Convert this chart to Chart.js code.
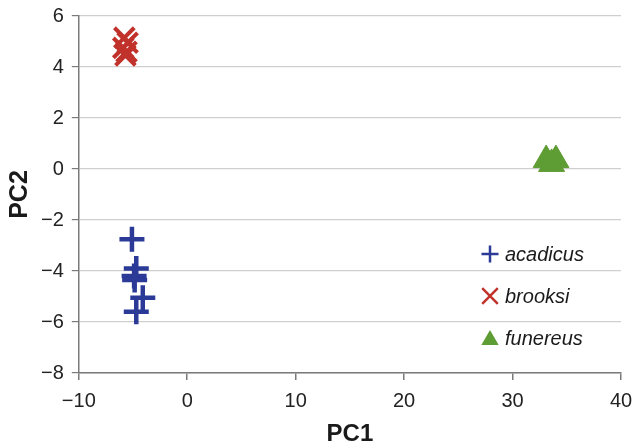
<!DOCTYPE html>
<html>
<head>
<meta charset="utf-8">
<script src="https://cdn.jsdelivr.net/npm/chart.js@4"></script>
<style>
  body { margin: 0; background: #fff; overflow: hidden; }
  canvas { display: block; margin-top: -2px; }
</style>
</head>
<body>
<canvas id="pca" width="639" height="450"></canvas>
<script>
// species scores on the first two principal components
const species = ["acadicus", "brooksi", "funereus"];
const acadicusPC1 = [-5.1, -4.7, -4.9, -4.85, -4.1, -4.7];
const acadicusPC2 = [-2.75, -3.9, -4.2, -4.35, -5.05, -5.6];
const brooksiPC1 = [-5.8, -5.5, -5.9, -5.6, -5.7];
const brooksiPC2 = [5.15, 4.95, 4.75, 4.6, 4.45];
const funereusPC1 = [33.1, 34.0, 33.6];
const funereusPC2 = [0.35, 0.35, 0.2];

const xTicks = [-10, 0, 10, 20, 30, 40];
const yTicks = [-8, -6, -4, -2, 0, 2, 4, 6];

const colors = ["#2b3a97", "#c0322b", "#5e9c34"];
const styles = ["cross", "crossRot", "triangle"];
const FONT = "'Liberation Sans', Arial, sans-serif";

function pts(xs, ys) {
  return xs.map((x, i) => ({ x: x, y: ys[i] }));
}

const datasets = [
  { label: species[0], data: pts(acadicusPC1, acadicusPC2), pointStyle: styles[0],
    pointRadius: 12.5, borderWidth: 4.5, borderColor: colors[0], backgroundColor: colors[0] },
  { label: species[1], data: pts(brooksiPC1, brooksiPC2), pointStyle: styles[1],
    pointRadius: 14, borderWidth: 4, borderColor: colors[1], backgroundColor: colors[1] },
  { label: species[2], data: pts(funereusPC1, funereusPC2), pointStyle: styles[2],
    pointRadius: 15, borderWidth: 1, borderColor: colors[2], backgroundColor: colors[2] }
];

const minus = v => String(v).replace("-", "\u2212");

// legend drawn inside the plot, lower right
const innerLegend = {
  id: "innerLegend",
  afterDraw(chart) {
    const ctx = chart.ctx;
    const area = chart.chartArea;
    const x0 = area.right - 131;
    const y0 = area.top + 238;
    ctx.save();
    ctx.font = "italic 20px " + FONT;
    ctx.textBaseline = "middle";
    species.forEach((name, i) => {
      const y = y0 + i * 42;
      ctx.strokeStyle = colors[i];
      ctx.fillStyle = colors[i];
      ctx.lineWidth = 2.5;
      Chart.helpers.drawPoint(ctx, {
        pointStyle: styles[i],
        radius: i === 1 ? 11 : (i === 2 ? 10 : 8.5),
        rotation: 0,
        borderWidth: i === 2 ? 0 : 2.5
      }, x0, y + (i === 2 ? 2 : 0));
      ctx.fillStyle = "#1a1a1a";
      ctx.fillText(name, x0 + 15, y + 1);
    });
    ctx.restore();
  }
};

new Chart(document.getElementById("pca"), {
  type: "scatter",
  data: { datasets },
  plugins: [innerLegend],
  options: {
    responsive: false,
    devicePixelRatio: 1,
    animation: false,
    layout: { padding: { left: 8, right: 0, top: 0, bottom: 2 } },
    plugins: { legend: { display: false }, tooltip: { enabled: false } },
    scales: {
      x: {
        type: "linear",
        min: xTicks[0],
        max: xTicks[xTicks.length - 1],
        afterBuildTicks: s => { s.ticks = xTicks.map(v => ({ value: v })); },
        grid: { color: "rgba(0,0,0,0)", tickColor: "#7a7a7a", tickLength: 7, lineWidth: 1.5 },
        border: { color: "#7a7a7a", width: 1.5 },
        ticks: { callback: minus, color: "#222", padding: 3,
                 font: { size: 20, family: FONT, lineHeight: 1.8 } },
        title: { display: true, text: "PC1", color: "#1a1a1a", padding: { top: 0, bottom: 0 },
                 font: { size: 24, weight: "bold", family: FONT, lineHeight: 1.0 } }
      },
      y: {
        type: "linear",
        min: yTicks[0],
        max: yTicks[yTicks.length - 1],
        afterBuildTicks: s => { s.ticks = yTicks.map(v => ({ value: v })); },
        grid: { color: "#cfcfcf", tickColor: "#7a7a7a", tickLength: 7, lineWidth: 1.2 },
        border: { color: "#7a7a7a", width: 1.5 },
        ticks: { callback: minus, color: "#222", padding: 8,
                 font: { size: 20, family: FONT, lineHeight: 0.5 } },
        title: { display: true, text: "PC2", color: "#1a1a1a", padding: { top: 0, bottom: 0 },
                 font: { size: 25, weight: "bold", family: FONT, lineHeight: 1.0 } }
      }
    }
  }
});
</script>
</body>
</html>
